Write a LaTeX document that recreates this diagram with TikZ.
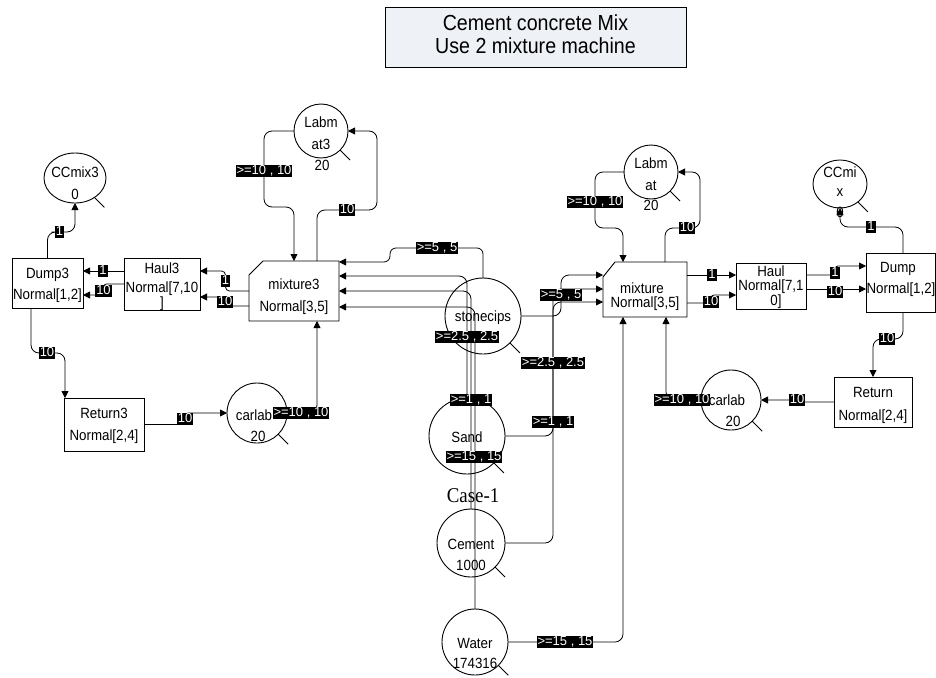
\documentclass[tikz,border=0pt]{standalone}
\usepackage{fontspec}
\setmainfont{Liberation Sans}
\newfontfamily\boxfont{Liberation Sans}[FakeStretch=0.9]
\newfontfamily\casefont{Liberation Serif}[FakeStretch=0.9]
\usetikzlibrary{arrows.meta,shapes.geometric}
\definecolor{titlefill}{RGB}{238,241,246}

\begin{document}
\begin{tikzpicture}[x=1pt,y=-1pt,
  every node/.style={inner sep=0pt,outer sep=0pt},
  place/.style={draw,line width=0.9pt,circle},
  oval/.style={draw,line width=0.9pt,ellipse},
  trans/.style={draw,line width=0.9pt,rectangle},
  txt/.style={font=\boxfont\fontsize{14.8}{16}\selectfont,text height=10.6pt,text depth=0pt},
  lab/.style={fill=black,text=white,font=\fontsize{13}{14}\selectfont,
    inner xsep=1pt,inner ysep=0.3pt,text height=9.2pt,text depth=2.6pt},
  arc/.style={draw,line width=0.8pt,rounded corners=8pt},
  tip/.style={-{Triangle[length=7pt,width=7pt]}},
  tick/.style={draw,line width=0.8pt}
]
\useasboundingbox (0,0) rectangle (936,677);
\fill[white] (0,0) rectangle (936,677);

% ---- title ----
\node[draw,line width=0.8pt,fill=titlefill,minimum width=301pt,minimum height=60pt] (title) at (535.5,37) {};
\node[font=\boxfont\fontsize{21.8}{24}\selectfont,text height=15.6pt,text depth=0pt] (title1) at (535.5,22.5) {Cement concrete Mix};
\node[font=\boxfont\fontsize{21.8}{24}\selectfont,text height=15.6pt,text depth=0pt] (title2) at (535.5,45.5) {Use 2 mixture machine};

% ---- places ----
\node[oval,minimum width=62pt,minimum height=50pt] (ccmix3) at (75,178) {};
\node[txt] (ccmix3a) at (75,172) {CCmix3};
\node[txt] (ccmix3b) at (75,194) {0};

\node[place,minimum size=54pt] (labmat3) at (321,131) {};
\node[txt] (labmat3a) at (321,122) {Labm};
\node[txt] (labmat3b) at (321,144) {at3};
\node[txt] (labmat3c) at (322,165) {20};

\node[place,minimum size=60pt] (carlab3) at (257,413) {};
\node[txt] (carlab3a) at (254,415) {carlab};
\node[txt] (carlab3b) at (258,436) {20};

\node[place,minimum size=76pt] (stone) at (483,316) {};
\node[txt] (stonea) at (483,316) {stonecips};

\node[place,minimum size=76pt] (sand) at (467,436) {};
\node[txt] (sanda) at (467,437) {Sand};

\node[place,minimum size=68pt] (cement) at (471,543) {};
\node[txt] (cementa) at (471,544) {Cement};
\node[txt] (cementb) at (471,565) {1000};

\node[place,minimum size=66pt] (water) at (475,642) {};
\node[txt] (watera) at (475,643) {Water};
\node[txt] (waterb) at (475,663) {174316};

\node[place,minimum size=54pt] (labmat) at (651,172) {};
\node[txt] (labmata) at (651,163) {Labm};
\node[txt] (labmatb) at (651,185) {at};
\node[txt] (labmatc) at (651,205) {20};

\node[place,minimum size=60pt] (carlab) at (731,400) {};
\node[txt] (carlaba) at (727,400) {carlab};
\node[txt] (carlabb) at (733,421) {20};

\node[oval,minimum width=54pt,minimum height=48pt] (ccmix) at (840,184) {};
\node[txt] (ccmixa) at (840,172) {CCmi};
\node[txt] (ccmixb) at (840,191) {x};
\node[txt] (ccmixc) at (840,212) {0};

\node[font=\casefont\fontsize{21}{24}\selectfont,text height=14pt,text depth=0pt] (case) at (473,495) {Case-1};

% tick marks on the places
\foreach \p in {ccmix3,labmat3,carlab3,stone,sand,cement,water,labmat,carlab,ccmix}
  \draw[tick] (\p.-45) -- ++(10,10);

% ---- transitions ----
\node[trans,minimum width=71pt,minimum height=50pt] (dump3) at (47.5,283) {};
\node[txt] (dump3a) at (47.5,273) {Dump3};
\node[txt] (dump3b) at (47.5,294) {Normal[1,2]};

\node[trans,minimum width=76pt,minimum height=52pt] (haul3) at (162,284) {};
\node[txt] (haul3a) at (162,268) {Haul3};
\node[txt] (haul3b) at (162,287) {Normal[7,10};
\node[txt] (haul3c) at (162,302) {]};

\node[trans,minimum width=80pt,minimum height=53pt] (ret3) at (104,424.5) {};
\node[txt] (ret3a) at (104,413) {Return3};
\node[txt] (ret3b) at (104,435) {Normal[2,4]};

\node[minimum width=90pt,minimum height=60pt] (m3) at (294,291) {};
\draw[line width=0.9pt] ([xshift=14pt]m3.north west) -- (m3.north east) -- (m3.south east)
  -- (m3.south west) -- ([yshift=-14pt]m3.north west) -- cycle;
\node[txt] (m3a) at (294,284) {mixture3};
\node[txt] (m3b) at (294,306) {Normal[3,5]};

\node[minimum width=84pt,minimum height=55pt] (mix) at (645,289.5) {};
\draw[line width=0.9pt] ([xshift=12pt]mix.north west) -- (mix.north east) -- (mix.south east)
  -- (mix.south west) -- ([yshift=-15pt]mix.north west) -- cycle;
\node[txt] (mixa) at (642,288) {mixture};
\node[txt] (mixb) at (645,302) {Normal[3,5]};

\node[trans,minimum width=70pt,minimum height=46pt] (haul) at (771,286) {};
\node[txt] (haula) at (771,271) {Haul};
\node[txt] (haulb) at (771,285) {Normal[7,1};
\node[txt] (haulc) at (776,300) {0]};

\node[trans,minimum width=69pt,minimum height=59pt] (dump) at (900.5,282.5) {};
\node[txt] (dumpa) at (898,267) {Dump};
\node[txt] (dumpb) at (901,288) {Normal[1,2]};

\node[trans,minimum width=78pt,minimum height=50pt] (ret) at (873,402) {};
\node[txt] (reta) at (873,392) {Return};
\node[txt] (retb) at (873,415) {Normal[2,4]};

% ---- label positions ----
\coordinate (l1) at (59.5,232);
\coordinate (l2) at (103,271);
\coordinate (l3) at (103.5,291);
\coordinate (l4) at (225.5,281);
\coordinate (l5) at (225,302);
\coordinate (l6) at (264,171);
\coordinate (l7) at (347,210);
\coordinate (l8) at (301,413);
\coordinate (l9) at (185,419);
\coordinate (l10) at (47,353);
\coordinate (l11) at (437,248);
\coordinate (l12) at (471,400);
\coordinate (l13) at (467,337);
\coordinate (l14) at (474,457);
\coordinate (l15) at (561,295);
\coordinate (l16) at (553,422);
\coordinate (l17) at (553,363);
\coordinate (l18) at (565,642);
\coordinate (l19) at (682,400);
\coordinate (l20) at (797,400);
\coordinate (l21) at (887,339);
\coordinate (l22) at (871,227);
\coordinate (l23) at (835,273);
\coordinate (l24) at (835,292);
\coordinate (l25) at (712,275);
\coordinate (l26) at (711,302);
\coordinate (l27) at (595,202);
\coordinate (l28) at (687,228);

% ---- arcs, left machine ----
\draw[arc,tip] (dump3.north) |- (l1) -| (ccmix3.south);
\draw[arc,tip] (l2 -| haul3.west) -- (l2 -| dump3.east);
\draw[arc,tip,rounded corners=3pt] (haul3.west |- 0,284) -| (l3) |- (dump3.east |- 0,295);
\draw[arc,tip,rounded corners=4pt] (m3.west |- 0,291) -| (l4) |- (haul3.east |- 0,271);
\draw[arc,tip,rounded corners=3pt] (m3.west |- 0,306) -| (l5) |- (haul3.east |- 0,297);
\draw[arc,tip] (labmat3.west) -| (l6) -- (264,207) -| (m3.north);
\draw[arc,tip] (m3.north -| 317,0) |- (l7) -| (labmat3.east -| 377,0) -- (labmat3.east);
\draw[arc,tip] (carlab3.east) -| (m3.south -| 317,0);
\draw[arc,tip,rounded corners=3pt] (ret3.east) -| (l9) |- (carlab3.west);
\draw[arc,tip] (dump3.south -| 31,0) |- (l10) -| (ret3.north -| 65,0);

% ---- arcs from the raw materials ----
\draw[arc,tip,rounded corners=6pt] (stone.north) |- (l11) -| (390,262) -- (m3.east |- 0,262);
\draw[arc,tip] (sand.north) |- (m3.east |- 0,276);
\draw[arc,tip] (cement.north) |- (m3.east |- 0,291);
\draw[arc,tip] (water.north) |- (m3.east |- 0,307);
\draw[arc,tip] (stone.east) -| (l15) |- (mix.west |- 0,275);
\draw[arc,tip] (sand.east) -| (l16) |- (mix.west |- 0,289);
\draw[arc,tip] (cement.east) -| (l17) |- (mix.west |- 0,302);
\draw[arc,tip] (water.east) -| (mix.south -| 623,0);

% ---- arcs, right machine ----
\draw[arc,tip] (carlab.west) -| (mix.south -| 666,0);
\draw[arc,tip,rounded corners=3pt] (ret.west) -| (l20) |- (carlab.east);
\draw[arc,tip] (dump.south -| 903,0) |- (l21) -| (ret.north);
\draw[arc,tip] (dump.north -| 903,0) |- (l22) -| (ccmix.south);
\draw[arc,tip,rounded corners=3pt] (haul.east |- 0,275) -| (l23) |- (dump.west |- 0,266);
\draw[arc,tip] (haul.east |- 0,289) -- (dump.west |- 0,289);
\draw[arc,tip] (mix.east |- 0,275) -- (haul.west |- 0,275);
\draw[arc,tip,rounded corners=3pt] (mix.east |- 0,303) -| (l26) |- (haul.west |- 0,295);
\draw[arc,tip] (labmat.west) -| (l27) -- (595,228) -| (mix.north -| 623,0);
\draw[arc,tip] (mix.north -| 665,0) |- (l28) -| (labmat.east -| 700,0) -- (labmat.east);

% ---- arc weights ----
\node[lab] (w1) at (l1) {1};
\node[lab] (w2) at (l2) {1};
\node[lab] (w3) at (l3) {10};
\node[lab] (w4) at (l4) {1};
\node[lab] (w5) at (l5) {10};
\node[lab] (w6) at (l6) {>=10 , 10};
\node[lab] (w7) at (l7) {10};
\node[lab] (w8) at (l8) {>=10 , 10};
\node[lab] (w9) at (l9) {10};
\node[lab] (w10) at (l10) {10};
\node[lab] (w11) at (l11) {>=5 , 5};
\node[lab] (w12) at (l12) {>=1 , 1};
\node[lab] (w13) at (l13) {>=2.5 , 2.5};
\node[lab] (w14) at (l14) {>=15 , 15};
\node[lab] (w15) at (l15) {>=5 , 5};
\node[lab] (w16) at (l16) {>=1 , 1};
\node[lab] (w17) at (l17) {>=2.5 , 2.5};
\node[lab] (w18) at (l18) {>=15 , 15};
\node[lab] (w19) at (l19) {>=10 , 10};
\node[lab] (w20) at (l20) {10};
\node[lab] (w21) at (l21) {10};
\node[lab] (w22) at (l22) {1};
\node[lab] (w23) at (l23) {1};
\node[lab] (w24) at (l24) {10};
\node[lab] (w25) at (l25) {1};
\node[lab] (w26) at (l26) {10};
\node[lab] (w27) at (l27) {>=10 , 10};
\node[lab] (w28) at (l28) {10};
\end{tikzpicture}
\end{document}
